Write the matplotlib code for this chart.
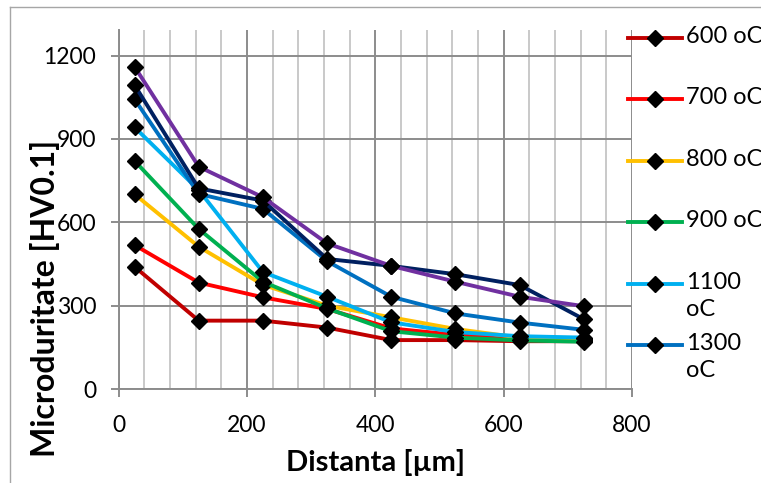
import matplotlib
matplotlib.use("Agg")
import matplotlib.pyplot as plt
from matplotlib.lines import Line2D
from matplotlib.ticker import MultipleLocator

plt.rcParams['font.family'] = ['Lato', 'DejaVu Sans']

# distance from the surface [um]
distance = [25, 125, 225, 325, 425, 525, 625, 725]

# microhardness HV0.1 for each treatment temperature
hv_600 = [440, 246, 246, 221, 176, 176, 172, 172]
hv_700 = [518, 383, 330, 288, 218, 195, 178, 175]
hv_800 = [701, 512, 375, 300, 258, 216, 185, 180]
hv_900 = [821, 576, 386, 290, 208, 185, 175, 170]
hv_1100 = [942, 716, 421, 332, 240, 205, 190, 185]
hv_1300 = [1043, 702, 648, 460, 332, 272, 239, 213]
hv_s7 = [1094, 722, 678, 468, 443, 413, 374, 251]
hv_s8 = [1160, 800, 690, 524, 443, 386, 332, 298]

series = [hv_600, hv_700, hv_800, hv_900, hv_1100, hv_1300, hv_s7, hv_s8]
colors = ['#C00000', '#FF0000', '#FFC000', '#00B050', '#00B0F0', '#0070C0',
          '#002060', '#7030A0']
legend_labels = ['600 oC', '700 oC', '800 oC', '900 oC', '1100\noC', '1300\noC']

W, H = 761, 483
fig = plt.figure(figsize=(W / 100, H / 100), dpi=100)
ax = fig.add_axes([118.5 / W, 1 - 389 / H, (632 - 118.5) / W, (389 - 30) / H])

for vals, c in zip(series, colors):
    ax.plot(distance, vals, color=c, lw=2.8, marker='D', ms=8,
            mfc='black', mec='black', solid_capstyle='round', zorder=3)

ax.set_xlim(0, 800)
ax.set_ylim(0, 1292)
ax.xaxis.set_major_locator(MultipleLocator(200))
ax.xaxis.set_minor_locator(MultipleLocator(40))
ax.yaxis.set_major_locator(MultipleLocator(300))

ax.grid(which='minor', axis='x', color='#c0c0c0', lw=1.2)
ax.grid(which='major', axis='both', color='#8c8c8c', lw=1.4)
ax.set_axisbelow(True)

for s in ['top', 'right']:
    ax.spines[s].set_visible(False)
for s in ['left', 'bottom']:
    ax.spines[s].set_color('#8c8c8c')
    ax.spines[s].set_linewidth(1.4)

ax.tick_params(which='major', direction='out', length=6, width=1.4,
               color='#8c8c8c', labelsize=16.5, pad=10)
ax.tick_params(axis='x', which='major', pad=12.5)
ax.tick_params(which='minor', length=0)

ax.set_xlabel('Distanta [µm]', fontsize=21, fontweight='bold', va='center')
ax.xaxis.set_label_coords(0.5, -(463 - 389) / 359)
ax.set_ylabel('Microduritate [HV0.1]', fontsize=23, fontweight='bold',
              va='center', ha='center')
ax.yaxis.set_label_coords((45 - 118.5) / 513.5, (389 - 298) / 359)

# legend column on the right (only the first six entries fit)
for i, (lab, c) in enumerate(zip(legend_labels, colors)):
    y = 1 - (38 + i * 61.4) / H
    fig.add_artist(Line2D([628 / W, 682 / W], [y, y], color=c, lw=2.8,
                          transform=fig.transFigure))
    fig.add_artist(Line2D([655 / W], [y], marker='D', ms=8, color='black',
                          transform=fig.transFigure))
    fig.text(686 / W, y + 12 / H, lab, fontsize=17, va='top', ha='left',
             linespacing=1.35)

# outer chart border
fig.add_artist(Line2D([10 / W, 10 / W], [0, 1 - 7 / H], color='#a6a6a6', lw=1,
                      transform=fig.transFigure))
fig.add_artist(Line2D([10 / W, 1], [1 - 7 / H, 1 - 7 / H], color='#a6a6a6', lw=1,
                      transform=fig.transFigure))

fig.savefig('out.png', dpi=100)
